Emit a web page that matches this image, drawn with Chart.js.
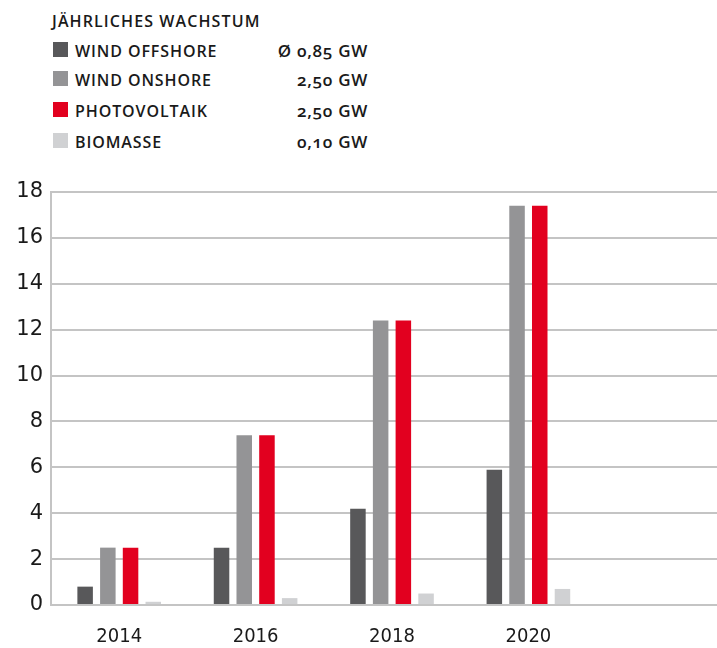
<!DOCTYPE html>
<html>
<head>
<meta charset="utf-8">
<script src="https://cdn.jsdelivr.net/npm/chart.js@4"></script>
<style>
  html,body{margin:0;padding:0;background:#fff;width:717px;height:648px;overflow:hidden;}
  .leg{position:absolute;font-family:"Open Sans",sans-serif;font-weight:600;font-size:16px;line-height:20px;color:#1a1a1a;letter-spacing:0.9px;white-space:nowrap;}
  .title{letter-spacing:1.1px;}
  .sq{position:absolute;width:15px;height:15px;}
  .val{text-align:right;width:140px;font-weight:600;font-size:17px;letter-spacing:0.7px;font-variant-numeric:oldstyle-nums;}
  #wrap{position:absolute;left:0;top:170px;width:733px;height:478px;}
</style>
</head>
<body>
<div id="legend"></div>
<div id="wrap"><canvas id="c" width="733" height="478"></canvas></div>
<script>
const legendTitle = 'JÄHRLICHES WACHSTUM';
const seriesNames = ['WIND OFFSHORE', 'WIND ONSHORE', 'PHOTOVOLTAIK', 'BIOMASSE'];
const growthLabels = ['Ø 0,85 GW', '2,50 GW', '2,50 GW', '0,10 GW'];
const seriesColors = ['#58585a', '#949496', '#e2001f', '#d0d1d3'];

const years = ['2014', '2016', '2018', '2020'];
const windOffshore = [0.8, 2.5, 4.2, 5.9];
const windOnshore = [2.5, 7.4, 12.4, 17.4];
const photovoltaik = [2.5, 7.4, 12.4, 17.4];
const biomasse = [0.14, 0.3, 0.5, 0.7];
const yTicks = [0, 2, 4, 6, 8, 10, 12, 14, 16, 18];

// legend (HTML)
const leg = document.getElementById('legend');
const t = document.createElement('div');
t.className = 'leg title'; t.style.left = '52px'; t.style.top = '11px'; t.textContent = legendTitle;
leg.appendChild(t);
const rowTops = [42, 71, 102, 133];
seriesNames.forEach((n, i) => {
  const s = document.createElement('div');
  s.className = 'sq'; s.style.left = '53px'; s.style.top = rowTops[i] + 'px'; s.style.background = seriesColors[i];
  leg.appendChild(s);
  const l = document.createElement('div');
  l.className = 'leg'; l.style.left = '75px'; l.style.top = (rowTops[i] - 1) + 'px'; l.textContent = n;
  leg.appendChild(l);
  const v = document.createElement('div');
  v.className = 'leg val'; v.style.left = '228px'; v.style.top = (rowTops[i] - 1) + 'px'; v.textContent = growthLabels[i];
  leg.appendChild(v);
});

const seriesData = [windOffshore, windOnshore, photovoltaik, biomasse];
new Chart(document.getElementById('c'), {
  type: 'bar',
  data: {
    labels: [...years, ''],
    datasets: seriesData.map((d, i) => ({
      label: seriesNames[i],
      data: d,
      backgroundColor: seriesColors[i],
      borderWidth: 0,
      categoryPercentage: 0.666,
      barPercentage: 0.683
    }))
  },
  options: {
    responsive: false,
    animation: false,
    devicePixelRatio: 1,
    layout: { padding: { top: 22, right: 0, left: 0, bottom: 0 } },
    plugins: { legend: { display: false }, tooltip: { enabled: false } },
    scales: {
      x: {
        grid: { display: false, drawTicks: false },
        border: { display: false },
        ticks: { color: '#1a1a1a', font: { family: 'DejaVu Sans Condensed', size: 20 }, padding: 20, maxRotation: 0 },
        afterFit: s => { s.height = 43; }
      },
      y: {
        min: 0, max: 18,
        afterBuildTicks: s => { s.ticks = yTicks.map(v => ({ value: v })); },
        grid: { color: '#c4c4c4', lineWidth: 2, drawTicks: false },
        border: { display: true, color: '#c4c4c4', width: 2 },
        ticks: { color: '#1a1a1a', font: { family: 'DejaVu Sans', size: 21 }, padding: 8 },
        afterFit: s => { s.width = 51; }
      }
    }
  }
});
</script>
</body>
</html>
